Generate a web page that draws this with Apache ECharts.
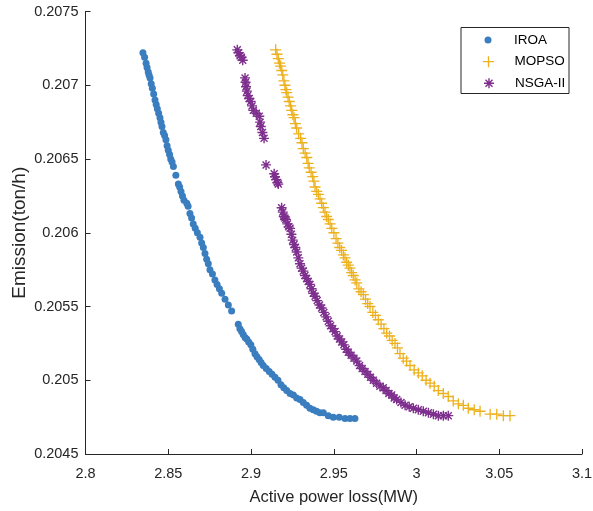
<!DOCTYPE html>
<html>
<head>
<meta charset="utf-8">
<script src="https://cdn.jsdelivr.net/npm/echarts@6/dist/echarts.min.js"></script>
<style>
html,body{margin:0;padding:0;background:#fff;}
#chart{width:593px;height:511px;}
</style>
</head>
<body>
<div id="chart"></div>
<script>
// ---- data ----
const seriesNames = ['IROA', 'MOPSO', 'NSGA-II'];

const iroaX = [2.8347,2.8357,2.8366,2.8372,2.8379,2.8384,2.8390,2.8397,2.8404,2.8412,2.8420,2.8427,2.8434,2.8442,2.8450,2.8456,2.8462,2.8470,2.8478,2.8486,2.8493,2.8500,2.8508,2.8515,2.8523,2.8531,2.8546,2.8561,2.8569,2.8577,2.8586,2.8595,2.8612,2.8620,2.8631,2.8641,2.8651,2.8663,2.8676,2.8692,2.8702,2.8712,2.8722,2.8732,2.8742,2.8752,2.8767,2.8782,2.8795,2.8809,2.8823,2.8843,2.8863,2.8883,2.8923,2.8933,2.8943,2.8953,2.8964,2.8974,2.8986,2.8999,2.9011,2.9024,2.9036,2.9049,2.9061,2.9074,2.9092,2.9110,2.9127,2.9145,2.9163,2.9181,2.9198,2.9216,2.9236,2.9256,2.9276,2.9296,2.9316,2.9336,2.9356,2.9376,2.9396,2.9416,2.9437,2.9467,2.9497,2.9533,2.9568,2.9598,2.9628];
const iroaY = [0.20722,0.20719,0.20715,0.20712,0.20709,0.20707,0.20705,0.20701,0.20698,0.20694,0.20690,0.20687,0.20684,0.20681,0.20678,0.20675,0.20672,0.20668,0.20666,0.20663,0.20659,0.20656,0.20653,0.20650,0.20648,0.20645,0.20639,0.20633,0.20631,0.20628,0.20625,0.20622,0.20620,0.20618,0.20613,0.20610,0.20606,0.20603,0.20600,0.20597,0.20593,0.20590,0.20586,0.20582,0.20579,0.20575,0.20572,0.20568,0.20565,0.20562,0.20559,0.20555,0.20551,0.20547,0.20538,0.20535,0.20533,0.20531,0.20529,0.20528,0.20526,0.20524,0.20521,0.20518,0.20516,0.20514,0.20512,0.20510,0.20508,0.20506,0.20504,0.20502,0.20500,0.20497,0.20495,0.20493,0.20491,0.20490,0.20488,0.20487,0.20485,0.20483,0.20481,0.20480,0.20479,0.20478,0.20478,0.20476,0.20475,0.20475,0.20474,0.20474,0.20474];

const mopsoX = [2.9149,2.9157,2.9165,2.9172,2.9179,2.9186,2.9192,2.9199,2.9205,2.9211,2.9216,2.9224,2.9231,2.9239,2.9246,2.9253,2.9260,2.9268,2.9276,2.9288,2.9300,2.9308,2.9316,2.9327,2.9337,2.9345,2.9352,2.9363,2.9373,2.9380,2.9387,2.9397,2.9407,2.9417,2.9427,2.9437,2.9447,2.9457,2.9467,2.9478,2.9488,2.9501,2.9514,2.9525,2.9536,2.9547,2.9558,2.9568,2.9578,2.9588,2.9598,2.9608,2.9618,2.9629,2.9639,2.9652,2.9665,2.9679,2.9692,2.9705,2.9719,2.9736,2.9752,2.9769,2.9786,2.9803,2.9820,2.9837,2.9853,2.9870,2.9885,2.9900,2.9920,2.9940,2.9961,2.9986,3.0011,3.0035,3.0058,3.0082,3.0107,3.0132,3.0162,3.0192,3.0222,3.0253,3.0283,3.0313,3.0349,3.0384,3.0445,3.0485,3.0525,3.0565];
const mopsoY = [0.20724,0.20721,0.20718,0.20715,0.20713,0.20710,0.20707,0.20703,0.20700,0.20697,0.20695,0.20692,0.20689,0.20686,0.20683,0.20680,0.20678,0.20674,0.20671,0.20667,0.20664,0.20661,0.20657,0.20654,0.20651,0.20647,0.20644,0.20641,0.20638,0.20635,0.20631,0.20628,0.20626,0.20623,0.20620,0.20617,0.20614,0.20611,0.20609,0.20606,0.20603,0.20600,0.20596,0.20593,0.20590,0.20588,0.20585,0.20583,0.20580,0.20578,0.20576,0.20573,0.20571,0.20568,0.20566,0.20562,0.20560,0.20558,0.20555,0.20552,0.20550,0.20546,0.20544,0.20541,0.20538,0.20535,0.20532,0.20530,0.20527,0.20525,0.20522,0.20518,0.20515,0.20513,0.20510,0.20507,0.20505,0.20503,0.20500,0.20498,0.20496,0.20493,0.20491,0.20489,0.20486,0.20484,0.20483,0.20481,0.20480,0.20479,0.20477,0.20477,0.20476,0.20476];

const nsgaX = [2.8917,2.8925,2.8934,2.8942,2.8950,2.8964,2.8967,2.8970,2.8975,2.8980,2.8989,2.8998,2.9006,2.9014,2.9032,2.9050,2.9055,2.9059,2.9069,2.9079,2.9091,2.9140,2.9145,2.9152,2.9160,2.9165,2.9185,2.9192,2.9198,2.9205,2.9211,2.9220,2.9228,2.9236,2.9244,2.9252,2.9260,2.9268,2.9276,2.9286,2.9296,2.9306,2.9316,2.9326,2.9336,2.9346,2.9356,2.9366,2.9376,2.9387,2.9400,2.9414,2.9427,2.9440,2.9454,2.9467,2.9481,2.9494,2.9508,2.9521,2.9535,2.9548,2.9561,2.9575,2.9588,2.9605,2.9622,2.9639,2.9656,2.9672,2.9689,2.9706,2.9722,2.9739,2.9759,2.9779,2.9799,2.9816,2.9833,2.9850,2.9865,2.9880,2.9906,2.9931,2.9956,2.9981,3.0011,3.0041,3.0072,3.0102,3.0132,3.0162,3.0192];
const nsgaY = [0.20724,0.20722,0.20720,0.20719,0.20717,0.20705,0.20702,0.20699,0.20696,0.20693,0.20691,0.20689,0.20686,0.20683,0.20681,0.20679,0.20675,0.20672,0.20668,0.20664,0.20646,0.20640,0.20638,0.20636,0.20634,0.20633,0.20617,0.20614,0.20611,0.20610,0.20609,0.20606,0.20604,0.20603,0.20599,0.20595,0.20592,0.20590,0.20587,0.20583,0.20579,0.20576,0.20574,0.20571,0.20569,0.20567,0.20565,0.20562,0.20559,0.20557,0.20554,0.20551,0.20549,0.20546,0.20543,0.20540,0.20537,0.20535,0.20533,0.20530,0.20528,0.20526,0.20524,0.20521,0.20519,0.20517,0.20515,0.20513,0.20510,0.20508,0.20506,0.20504,0.20502,0.20500,0.20498,0.20496,0.20495,0.20493,0.20491,0.20490,0.20488,0.20487,0.20485,0.20483,0.20482,0.20481,0.20480,0.20479,0.20478,0.20477,0.20476,0.20476,0.20476];

const xTicks = {min: 2.8, max: 3.1, interval: 0.05};
const yTicks = {min: 0.2045, max: 0.2075, interval: 0.0005};

// ---- rendering ----
const zip = (xs, ys) => xs.map((x, i) => [x, ys[i]]);
const PLUS = 'path://M4.4,0H5.6V4.4H10V5.6H5.6V10H4.4V5.6H0V4.4H4.4Z';
const STAR = 'path://M4.3,0H5.7V10H4.3Z M0,4.3H10V5.7H0Z M2,1L9,8L8,9L1,2Z M8,1L9,2L2,9L1,8Z';
const TXT = '#262626';
const FONT = '"Liberation Sans", Arial, Helvetica, sans-serif';

const chart = echarts.init(document.getElementById('chart'), null, {renderer: 'canvas'});

function legendAt(name, left, top, h) {
  return {
    data: [name], orient: 'vertical', left: left, top: top, padding: 0,
    itemWidth: 42, itemHeight: h, itemGap: 0, selectedMode: false,
    textStyle: {color: '#000', fontSize: 13.5, fontFamily: FONT, lineHeight: 14}
  };
}

chart.setOption({
  animation: false,
  backgroundColor: '#fff',
  grid: {left: 85.5, right: 11, top: 11.5, bottom: 57, containLabel: false, outerBoundsMode: 'none'},
  legend: [legendAt('IROA', 484.5, 33, 7), legendAt('MOPSO', 483, 54.7, 11), legendAt('NSGA-II', 484, 76.3, 10)],
  graphic: [{
    type: 'rect', z: 1, silent: true,
    shape: {x: 461, y: 27.5, width: 108, height: 66},
    style: {fill: '#fff', stroke: TXT, lineWidth: 1}
  }],
  xAxis: {
    type: 'value', min: xTicks.min, max: xTicks.max, interval: xTicks.interval,
    name: 'Active power loss(MW)', nameLocation: 'middle', nameGap: 35,
    nameTextStyle: {color: TXT, fontSize: 16.5, fontFamily: FONT},
    axisLine: {show: true, onZero: false, lineStyle: {color: TXT, width: 1}},
    axisTick: {show: true, inside: true, length: 5, lineStyle: {color: TXT}},
    axisLabel: {color: TXT, fontSize: 14.5, fontFamily: FONT, margin: 12},
    splitLine: {show: false}
  },
  yAxis: {
    type: 'value', min: yTicks.min, max: yTicks.max, interval: yTicks.interval,
    name: 'Emission(ton/h)', nameLocation: 'middle', nameGap: 56, nameMoveOverlap: false,
    nameTextStyle: {color: TXT, fontSize: 19, fontFamily: FONT},
    axisLine: {show: true, onZero: false, lineStyle: {color: TXT, width: 1}},
    axisTick: {show: true, inside: true, length: 5, lineStyle: {color: TXT}},
    axisLabel: {color: TXT, fontSize: 14.5, fontFamily: FONT, margin: 7},
    splitLine: {show: false}
  },
  series: [
    {name: seriesNames[0], type: 'scatter', data: zip(iroaX, iroaY), symbol: 'circle', symbolSize: 7,
     itemStyle: {color: '#3a7ebf', opacity: 1}},
    {name: seriesNames[1], type: 'scatter', data: zip(mopsoX, mopsoY), symbol: PLUS, symbolSize: 11,
     itemStyle: {color: '#EDB120', opacity: 1}},
    {name: seriesNames[2], type: 'scatter', data: zip(nsgaX, nsgaY), symbol: STAR, symbolSize: 10,
     itemStyle: {color: '#7E2F8E', opacity: 1}}
  ]
});
</script>
</body>
</html>
